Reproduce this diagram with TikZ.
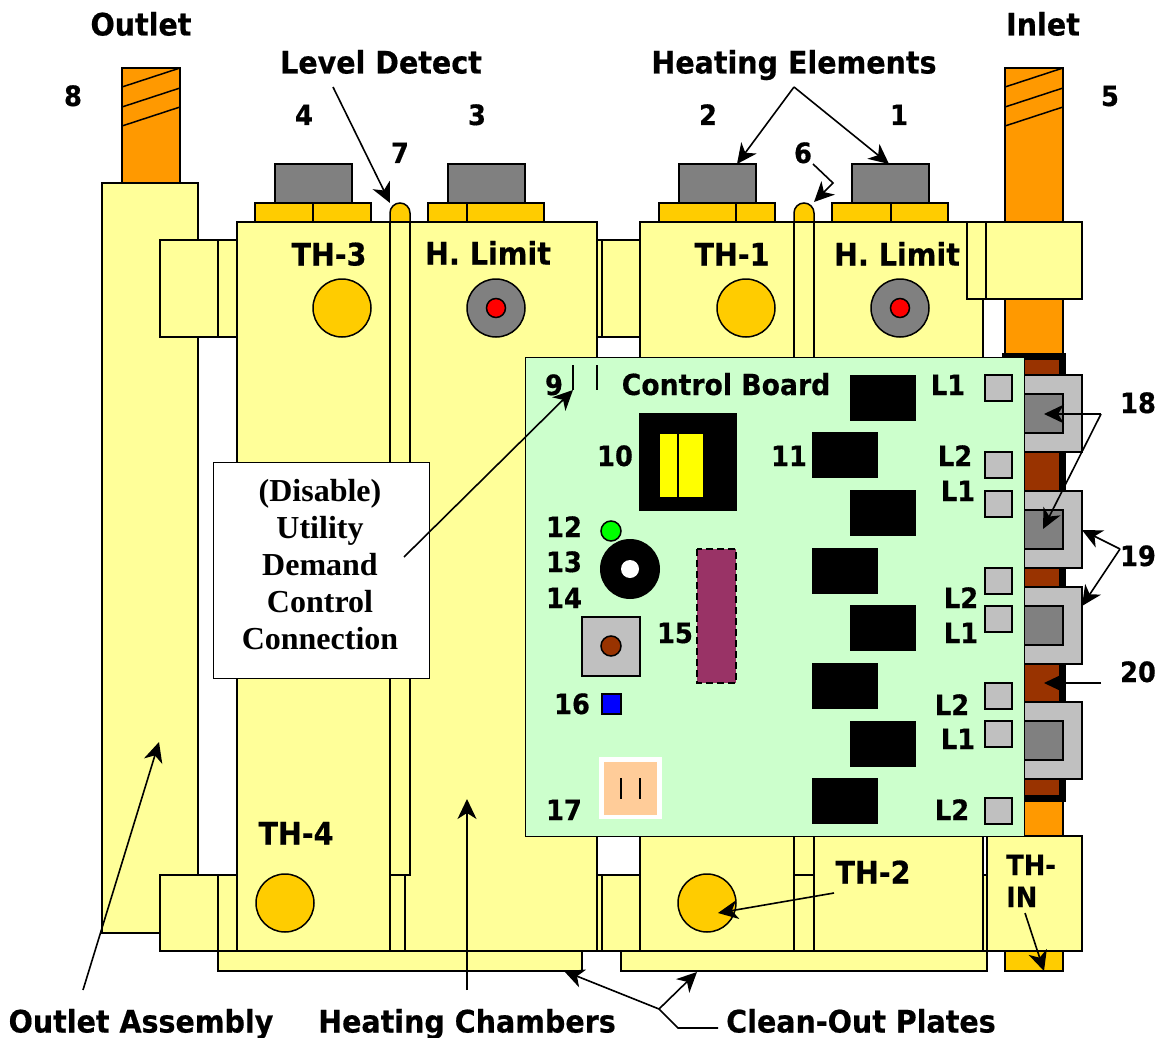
\documentclass[tikz,border=0pt]{standalone}
\usepackage{fontspec}
\setmainfont{DejaVu Sans}[FakeStretch=0.92,BoldFeatures={FakeBold=0.5}]
\newfontfamily\boxfont{Liberation Serif}
\usetikzlibrary{arrows.meta}
\definecolor{chamberyel}{HTML}{FFFF99}
\definecolor{pipeorange}{HTML}{FF9900}
\definecolor{capgold}{HTML}{FFCC00}
\definecolor{boardgreen}{HTML}{CCFFCC}
\definecolor{darkgrey}{HTML}{808080}
\definecolor{lightgrey}{HTML}{C0C0C0}
\definecolor{rust}{HTML}{993300}
\definecolor{chipplum}{HTML}{993366}
\definecolor{peach}{HTML}{FFCC99}
\definecolor{coilyellow}{HTML}{FFFF00}
\definecolor{ledgreen}{HTML}{00FF00}
\definecolor{ledred}{HTML}{FF0000}
\definecolor{ledblue}{HTML}{0000FF}
\tikzset{
  part/.style={draw=black,line width=1.5pt},
  chamber/.style={part,fill=chamberyel},
  bigtext/.style={inner sep=0pt,text height=23pt,text depth=0pt,font=\fontsize{31}{37}\selectfont\bfseries},
  numtext/.style={inner sep=0pt,text height=20pt,text depth=0pt,font=\fontsize{28}{34}\selectfont\bfseries},
  arr/.style={line width=1.6pt,-{Stealth[length=20pt,width=19pt,inset=6pt]}},
  leader/.style={line width=1.6pt},
}
\begin{document}
\begin{tikzpicture}[x=1pt,y=-1pt]
\useasboundingbox (0,0) rectangle (1157,1038);
% pipes
\draw[part,fill=pipeorange] (122,68) rectangle (180,183);
\draw[part,fill=pipeorange] (1005,68) rectangle (1063,836);
\foreach \xa in {122,1005} {
  \foreach \ya in {87,107,126} {\draw[part] (\xa,\ya) -- ++(58,-19);}
}
% outlet assembly
\draw[chamber] (102,183) rectangle (198,933);
\foreach \ya/\yb in {240/337,875/951} {
  \draw[chamber] (160,\ya) rectangle (218,\yb);
  \draw[chamber] (218,\ya) rectangle (237,\yb);
  \draw[chamber] (597,\ya) rectangle (602,\yb);
  \draw[chamber] (602,\ya) rectangle (640,\yb);
}
\draw[chamber] (983,875) rectangle (987,951);
% clean-out plates and cap
\draw[chamber] (218,951) rectangle (582,971);
\draw[chamber] (621,951) rectangle (987,971);
\draw[part,fill=capgold] (1005,951) rectangle (1063,971);
% heating elements
\foreach \xa/\xb in {255/313,428/467,659/736,832/891} {
  \draw[part,fill=darkgrey] (\xa+20,164) rectangle (\xa+97,203);
  \draw[part,fill=capgold] (\xa,203) rectangle (\xb,222);
  \draw[part,fill=capgold] (\xb,203) rectangle (\xa+116,222);
}
% level tubes
\foreach \xa in {390,794} {
  \draw[part,fill=capgold] (\xa,222) -- (\xa,213) arc[start angle=180,end angle=360,radius=10] -- (\xa+20,222) -- cycle;
}
% heating chambers
\draw[chamber] (237,222) rectangle (597,951);
\draw[chamber] (640,222) rectangle (983,951);
\draw[chamber] (390,222) rectangle (410,875);
\draw[chamber] (390,875) rectangle (405,951);
\draw[chamber] (794,222) rectangle (814,875);
\draw[chamber] (794,875) rectangle (814,951);
% thermostats
\foreach \xa/\ya in {342/308,746/308,285/903,707/903} {\draw[part,fill=capgold] (\xa,\ya) circle[radius=29];}
\foreach \xa in {496,900} {
  \draw[part,fill=darkgrey] (\xa,308) circle[radius=29];
  \draw[part,fill=ledred] (\xa,308) circle[radius=9.5];
}
% inlet boxes
\draw[chamber] (967,222) rectangle (986,299);
\draw[chamber] (986,222) rectangle (1082,299);
\draw[chamber] (987,836) rectangle (1082,951);
% back of the board
\fill[black] (1002,353) rectangle (1066,802);
\fill[rust] (1024,360) rectangle (1059,795);
\foreach \ya in {375,491,587,702} {
  \draw[part,fill=lightgrey] (1024,\ya) rectangle (1082,\ya+77);
  \draw[part,fill=darkgrey] (1024,\ya+19) rectangle (1063,\ya+58);
}
% control board
\draw[part,line width=1pt,fill=boardgreen] (525,357) rectangle (1024,836);
\draw[part] (573,365) -- (573,390);
\draw[part] (597,365) -- (597,390);
\fill[black] (639,413) rectangle (737,511);
\fill[coilyellow] (660,434) rectangle (703,497);
\draw[part] (678,434) -- (678,497);
\draw[part,fill=ledgreen] (611,531) circle[radius=10];
\fill[black] (630,569) circle[radius=30];
\fill[white] (630,569) circle[radius=9];
\draw[part,fill=lightgrey] (582,617) rectangle (640,676);
\draw[part,fill=rust] (611,646) circle[radius=10];
\draw[part,dash pattern=on 7pt off 4pt,fill=chipplum] (697,549) rectangle (736,683);
\draw[part,fill=ledblue] (602,694) rectangle (621,714);
\fill[white] (599,757) rectangle (662,819);
\fill[peach] (604,762) rectangle (657,815);
\draw[part] (621,778) -- (621,799);
\draw[part] (640,778) -- (640,799);
\foreach \xa/\ya in {850/375,812/432,850/490,812/548,850/605,812/663,850/721,812/778} {\fill[black] (\xa,\ya) rectangle (\xa+66,\ya+46);}
\foreach \ya in {375,452,491,568,606,683,721,798} {\draw[part,fill=lightgrey] (985,\ya) rectangle (1012,\ya+26);}
% utility box
\node[draw=black,line width=1pt,fill=white,minimum width=216pt,minimum height=216pt,inner sep=0pt] (utilitybox) at (321,570) {};
\node[inner sep=0pt,align=center,font=\boxfont\fontsize{32}{37}\selectfont\bfseries] (utilitytext) at (320,565)
  {(Disable)\\Utility\\Demand\\Control\\Connection};
% labels
\node[bigtext] (outlet) at (141,24) {Outlet};
\node[bigtext] (inlet) at (1043,24) {Inlet};
\node[bigtext] (leveldetect) at (381,62) {Level Detect};
\node[bigtext] (heatelements) at (794,62) {Heating Elements};
\node[bigtext] (th3) at (329,254) {TH-3};
\node[bigtext] (limitleft) at (488,253) {H. Limit};
\node[bigtext] (th1) at (732,254) {TH-1};
\node[bigtext] (limitright) at (897,254) {H. Limit};
\node[bigtext] (th4) at (296,833) {TH-4};
\node[bigtext] (th2) at (873,872) {TH-2};
\node[bigtext] (outletassembly) at (141,1021) {Outlet Assembly};
\node[bigtext] (heatchambers) at (467,1021) {Heating Chambers};
\node[bigtext] (cleanout) at (861,1021) {Clean-Out Plates};
\node[numtext,font=\fontsize{29}{34}\selectfont\bfseries] (controlboard) at (726,385) {Control Board};
\node[numtext,anchor=west] (thin1) at (1006,865) {TH-};
\node[numtext,anchor=west] (thin2) at (1006,897) {IN};
\foreach \n/\xa/\ya in {8/73/96,5/1110/96,4/304/115,3/477/115,7/400/153,2/708/115,1/899/115,6/803/153,9/554/385,
  10/615/456,11/789/456,12/564/527,13/564/562,14/564/598,15/675/633,16/572/704,17/564/810,18/1138/403,19/1138/556,20/1138/672} {
  \node[numtext] (num\n) at (\xa,\ya) {\n};
}
\foreach \i/\t/\xa/\ya in {a/L1/948/385,b/L2/955/456,c/L1/958/491,d/L2/961/598,e/L1/961/633,f/L2/952/705,g/L1/958/739,h/L2/952/810} {
  \node[numtext] (term\i) at (\xa,\ya) {\t};
}
% arrow ends
\coordinate (levelstart) at (333,87);
\coordinate (levelend) at (390,203);
\coordinate (heatapex) at (794,87);
\coordinate (heat2) at (737,164);
\coordinate (heat1) at (889,164);
\coordinate (tubestart) at (813,164);
\coordinate (tubebend) at (833,183);
\coordinate (tubeend) at (814,202);
\coordinate (boxstart) at (404,557);
\coordinate (plugend) at (573,390);
\coordinate (apex18) at (1101,414);
\coordinate (end18a) at (1044,414);
\coordinate (end18b) at (1043,529);
\coordinate (apex19) at (1120,549);
\coordinate (end19a) at (1082,530);
\coordinate (end19b) at (1082,606);
\coordinate (start20) at (1101,683);
\coordinate (end20) at (1044,683);
\coordinate (th2start) at (834,893);
\coordinate (th2end) at (718,913);
\coordinate (thinstart) at (1025,913);
\coordinate (thinend) at (1044,971);
\coordinate (assemblystart) at (83,990);
\coordinate (assemblyend) at (159,742);
\coordinate (chamberstart) at (467,990);
\coordinate (chamberend) at (467,799);
\coordinate (platestart) at (718,1028);
\coordinate (platebend) at (678,1028);
\coordinate (plateapex) at (659,1009);
\coordinate (plateright) at (697,972);
\coordinate (plateleft) at (564,971);
% arrows
\draw[arr] (levelstart) -- (levelend);
\draw[arr] (heatapex) -- (heat2);
\draw[arr] (heatapex) -- (heat1);
\draw[arr] (tubestart) -- (tubebend) -- (tubeend);
\draw[arr] (boxstart) -- (plugend);
\draw[arr] (apex18) -- (end18a);
\draw[arr] (apex18) -- (end18b);
\draw[arr] (apex19) -- (end19a);
\draw[arr] (apex19) -- (end19b);
\draw[arr] (start20) -- (end20);
\draw[arr] (th2start) -- (th2end);
\draw[arr] (thinstart) -- (thinend);
\draw[arr] (assemblystart) -- (assemblyend);
\draw[arr] (chamberstart) -- (chamberend);
\draw[leader] (platestart) -- (platebend) -- (plateapex);
\draw[arr] (plateapex) -- (plateright);
\draw[arr] (plateapex) -- (plateleft);
\end{tikzpicture}
\end{document}
